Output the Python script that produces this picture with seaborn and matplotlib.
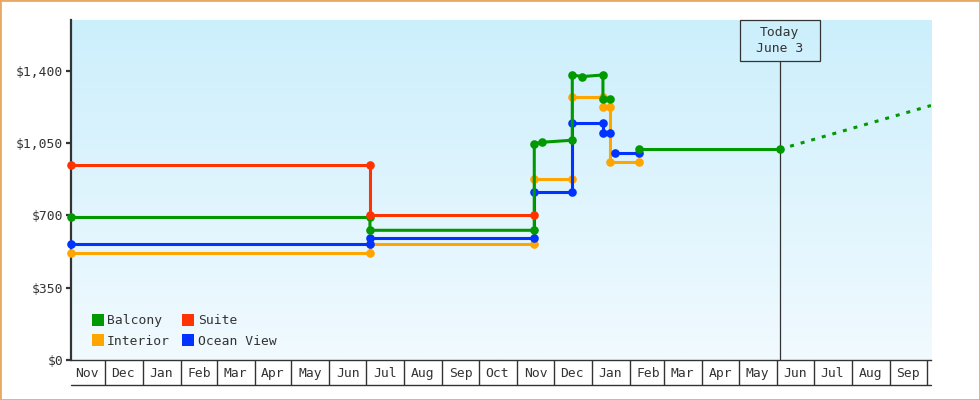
import matplotlib
matplotlib.use("Agg")
import matplotlib.pyplot as plt
import matplotlib.dates as mdates
from matplotlib.lines import Line2D
from matplotlib.patches import Rectangle
from matplotlib.ticker import NullFormatter
import numpy as np
import pandas as pd
import seaborn as sns

# ---------------- data ----------------
balcony_dates = ["2023-11-03", "2024-07-04", "2024-07-04", "2024-11-15", "2024-11-15",
                 "2024-11-21", "2024-12-16", "2024-12-16", "2024-12-24", "2025-01-10",
                 "2025-01-10", "2025-01-16", "2025-02-08", "2025-06-03"]
balcony_prices = [690, 690, 628, 628, 1046, 1054, 1064, 1380, 1372, 1380, 1262, 1262, 1020, 1020]
balcony_segments = [0] * 12 + [1] * 2

interior_dates = ["2023-11-03", "2024-07-04", "2024-07-04", "2024-11-15", "2024-11-15",
                  "2024-12-16", "2024-12-16", "2025-01-10", "2025-01-10", "2025-01-16",
                  "2025-01-16", "2025-02-08"]
interior_prices = [520, 520, 560, 560, 876, 876, 1275, 1275, 1223, 1223, 960, 960]
interior_segments = [0] * 12

suite_dates = ["2023-11-03", "2024-07-04", "2024-07-04", "2024-11-15"]
suite_prices = [944, 944, 700, 700]
suite_segments = [0] * 4

ocean_dates = ["2023-11-03", "2024-07-04", "2024-07-04", "2024-11-15", "2024-11-15",
               "2024-12-16", "2024-12-16", "2025-01-10", "2025-01-10", "2025-01-16",
               "2025-01-20", "2025-02-08"]
ocean_prices = [560, 560, 589, 589, 814, 814, 1146, 1146, 1097, 1097, 1000, 1000]
ocean_segments = [0] * 10 + [1] * 2

projection_dates = ["2025-06-03T00:00", "2025-10-04T12:00"]
projection_prices = [1020, 1232]

today_date = "2025-06-03"
today_label = "Today\nJune 3"

y_ticks = [0, 350, 700, 1050, 1400]
y_tick_labels = ["$0", "$350", "$700", "$1,050", "$1,400"]

x_start = "2023-11-03T00:00"
x_end = "2025-10-04T12:00"

cabins = ["Balcony", "Interior", "Suite", "Ocean View"]
colors = {"Balcony": "#009900", "Interior": "#FFA500", "Suite": "#FF3300", "Ocean View": "#0033FF"}

series = {
    "Balcony": (balcony_dates, balcony_prices, balcony_segments),
    "Interior": (interior_dates, interior_prices, interior_segments),
    "Suite": (suite_dates, suite_prices, suite_segments),
    "Ocean View": (ocean_dates, ocean_prices, ocean_segments),
}

frames = []
for name, (d, p, s) in series.items():
    frames.append(pd.DataFrame({"date": pd.to_datetime(d, format="ISO8601"), "price": p,
                                "segment": s, "cabin": name}))
df = pd.concat(frames, ignore_index=True)

# ---------------- style ----------------
sns.set_theme(style="white")
plt.rcParams["font.family"] = ["DejaVu Sans Mono", "DejaVu Sans"]
FS = 9.4
DARK = "#333333"

W, H = 980, 400
fig = plt.figure(figsize=(W / 100, H / 100), dpi=100, facecolor="white")
ax_l, ax_r, ax_t, ax_b = 70.7, 931.0, 20.0, 360.0
ax = fig.add_axes([ax_l / W, 1 - ax_b / H, (ax_r - ax_l) / W, (ax_b - ax_t) / H])
ax_wpx = ax_r - ax_l
ax_hpx = ax_b - ax_t

# gradient background
top_c = np.array([204, 239, 252]) / 255.0
bot_c = np.array([241, 250, 255]) / 255.0
t = np.linspace(0, 1, 256).reshape(-1, 1, 1)
grad = top_c * (1 - t) + bot_c * t
ax.imshow(grad, extent=[0, 1, 0, 1], transform=ax.transAxes, aspect="auto",
          origin="upper", zorder=0, interpolation="bilinear")

# today line
today = pd.Timestamp(today_date)
box_h_px = 40.7
ax.axvline(today, ymin=0, ymax=1 - box_h_px / ax_hpx, color=DARK, lw=0.9, zorder=2)

# series
z_order = {"Interior": 3, "Ocean View": 4, "Balcony": 5, "Suite": 6}
for name in ["Interior", "Ocean View", "Balcony", "Suite"]:
    sub = df[df["cabin"] == name]
    sns.lineplot(data=sub, x="date", y="price", units="segment", estimator=None, sort=False,
                 color=colors[name], marker="o", markersize=6.2, markeredgewidth=0,
                 markeredgecolor=colors[name], linewidth=2.2, clip_on=False,
                 zorder=z_order[name], ax=ax, legend=False)

# projection
sns.lineplot(x=pd.to_datetime(projection_dates, format="ISO8601"), y=projection_prices,
             color=colors["Balcony"], linestyle=(0, (1.3, 2.3)), linewidth=2.2, ax=ax,
             zorder=5, legend=False)

# axes limits
ax.set_autoscale_on(False)
ax.set_xlim(pd.Timestamp(x_start), pd.Timestamp(x_end))
ax.set_ylim(0, 1646)

# x axis month boxes
ax.xaxis.set_major_locator(mdates.MonthLocator())
ax.xaxis.set_major_formatter(NullFormatter())
ax.xaxis.set_minor_locator(mdates.MonthLocator(bymonthday=16))
ax.xaxis.set_minor_formatter(mdates.DateFormatter("%b"))
ax.tick_params(axis="x", which="major", length=18, width=1.0, color=DARK, direction="out", bottom=True)
ax.tick_params(axis="x", which="minor", length=0, pad=5, labelsize=FS, labelcolor=DARK, bottom=True)
box_line_y = -25.0 / ax_hpx
ax.add_line(Line2D([0, 1], [box_line_y, box_line_y], transform=ax.transAxes,
                   clip_on=False, color=DARK, lw=1.0))

# y axis
ax.set_yticks(y_ticks)
ax.set_yticklabels(y_tick_labels)
ax.tick_params(axis="y", length=3.6, width=1.6, pad=1.8, color=DARK, labelsize=FS,
               labelcolor=DARK, direction="out", left=True)
ax.set_xlabel("")
ax.set_ylabel("")

for s in ["top", "right"]:
    ax.spines[s].set_visible(False)
ax.spines["left"].set_color(DARK)
ax.spines["left"].set_linewidth(1.6)
ax.spines["bottom"].set_color(DARK)
ax.spines["bottom"].set_linewidth(1.0)
ax.spines["left"].set_zorder(2.5)

# today box
x0n, x1n = mdates.date2num(pd.Timestamp(x_start)), mdates.date2num(pd.Timestamp(x_end))
frac = (mdates.date2num(today) - x0n) / (x1n - x0n)
hw = 40.0 / ax_wpx
bh = box_h_px / ax_hpx
ax.add_patch(Rectangle((frac - hw, 1 - bh), 2 * hw, bh, transform=ax.transAxes, fill=False,
                       ec=DARK, lw=0.9, clip_on=False, zorder=7))
ax.text(frac, 1 - bh / 2, today_label, transform=ax.transAxes, ha="center", va="center",
        fontsize=FS, color=DARK, linespacing=1.35, zorder=8)

# legend
handles = [Line2D([], [], marker="s", linestyle="none", markersize=8, markeredgewidth=0,
                  color=colors[c]) for c in cabins]
leg = ax.legend(handles, cabins, ncol=2, loc="lower left",
                bbox_to_anchor=(21.5 / ax_wpx, 12.0 / ax_hpx), frameon=False,
                handlelength=0.9, handletextpad=0.25, columnspacing=0.95, labelspacing=0.6,
                borderpad=0, borderaxespad=0, fontsize=FS, labelcolor=DARK)
leg.set_zorder(9)

# figure border
fig.patches.append(Rectangle((0, 0), 1, 1, transform=fig.transFigure, fill=False,
                             ec="#E8A965", lw=2.0))

fig.savefig("out.png", dpi=100)
